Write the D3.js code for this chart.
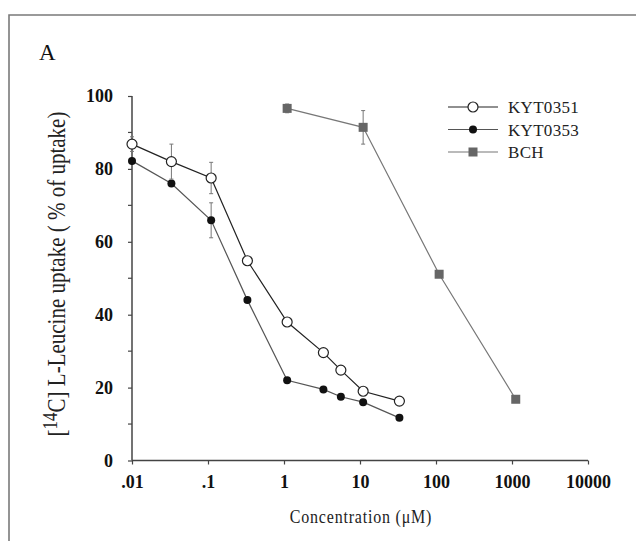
<!DOCTYPE html>
<html>
<head>
<meta charset="utf-8">
<script src="https://cdn.jsdelivr.net/npm/d3@7"></script>
<style>
  body { margin: 0; background: #fff; }
  svg { display: block; }
  text { font-family: "Liberation Serif", "Times New Roman", serif; }
</style>
</head>
<body>
<div id="chart"></div>
<script>
// data
const kytConc = [0.01, 0.033, 0.11, 0.33, 1.1, 3.3, 5.6, 11, 33];
const kyt0351 = [86.8, 82, 77.5, 54.8, 38, 29.6, 24.8, 19, 16.3];
const kyt0351Err = [2, 4.8, 4.3, 0, 0, 0, 0, 0, 0];
const kyt0353 = [82.2, 76, 65.9, 44, 22, 19.5, 17.5, 16, 11.7];
const kyt0353Err = [0, 0, 4.8, 0, 0, 0, 0, 0, 0];
const bchConc = [1.1, 11, 110, 1120];
const bch = [96.6, 91.4, 51.1, 16.8];
const bchErr = [1.2, 4.6, 0, 0];

const xTicks = [0.01, 0.1, 1, 10, 100, 1000, 10000];
const xTickLabels = [".01", ".1", "1", "10", "100", "1000", "10000"];
const yTicks = [0, 20, 40, 60, 80, 100];
const yMinor = [10, 30, 50, 70, 90];

const W = 636, H = 541;
const svg = d3.select("#chart").append("svg").attr("width", W).attr("height", H);

// frame (top + left only visible)
svg.append("path")
  .attr("d", "M9,541 V15 H636")
  .attr("fill", "none").attr("stroke", "#7a7a7a").attr("stroke-width", 1.6);

svg.append("text").attr("x", 39).attr("y", 60)
  .attr("font-size", 23).attr("fill", "#111").text("A");

const x = d3.scaleLog().domain([0.01, 10000]).range([132, 588]);
const y = d3.scaleLinear().domain([0, 100]).range([460.5, 96]);

// axes
const gx = svg.append("g").attr("transform", "translate(0,460.5)")
  .call(d3.axisBottom(x).tickValues(xTicks).tickSize(4).tickPadding(11)
    .tickFormat((d, i) => xTickLabels[i]));
const gy = svg.append("g").attr("transform", "translate(132,0)")
  .call(d3.axisLeft(y).tickValues(yTicks).tickSize(4).tickPadding(15));
gy.selectAll(".minor").data(yMinor).enter().append("line")
  .attr("class", "minor").attr("x1", -4).attr("x2", 0)
  .attr("y1", d => y(d)).attr("y2", d => y(d));

[gx, gy].forEach(g => {
  g.select(".domain").attr("stroke", "#444").attr("stroke-width", 1.5)
    .attr("d", g === gx ? "M132,0H588" : "M0,460.5V96");
  g.selectAll("line").attr("stroke", "#444").attr("stroke-width", 1.2);
  g.selectAll("text").attr("font-size", 18).attr("font-weight", "bold")
    .attr("fill", "#111").style("font-family", "'Liberation Serif', serif");
});

// axis titles
svg.append("text")
  .attr("transform", "translate(361,523) scale(1,1.2)")
  .attr("text-anchor", "middle").attr("font-size", 16)
  .attr("letter-spacing", 0.8).attr("fill", "#222")
  .text("Concentration (μM)");

const yt = svg.append("text")
  .attr("transform", "translate(65,274) rotate(-90) scale(1,1.2)")
  .attr("text-anchor", "middle").attr("font-size", 21).attr("fill", "#222");
yt.append("tspan").text("[");
yt.append("tspan").attr("dy", -7).attr("font-size", 17).text("14");
yt.append("tspan").attr("dy", 7).text("C] L-Leucine uptake ( % of uptake)");

// series
const series = [
  { name: "KYT0351", xs: kytConc, ys: kyt0351, err: kyt0351Err, line: "#222", shape: "open" },
  { name: "KYT0353", xs: kytConc, ys: kyt0353, err: kyt0353Err, line: "#555", shape: "filled" },
  { name: "BCH", xs: bchConc, ys: bch, err: bchErr, line: "#777", shape: "square" }
];

const line = d3.line().x(d => x(d[0])).y(d => y(d[1]));

const drawMarker = function(g, shape, cx, cy) {
  if (shape === "open") {
    g.append("circle").attr("cx", cx).attr("cy", cy).attr("r", 5)
      .attr("fill", "#fff").attr("stroke", "#222").attr("stroke-width", 1.2);
  } else if (shape === "filled") {
    g.append("circle").attr("cx", cx).attr("cy", cy).attr("r", 4)
      .attr("fill", "#111");
  } else {
    g.append("rect").attr("x", cx - 4.5).attr("y", cy - 4.5)
      .attr("width", 9).attr("height", 9).attr("fill", "#666");
  }
}

// draw in reverse so open circles sit on top
series.slice().reverse().forEach(s => {
  const pts = s.xs.map((v, i) => [v, s.ys[i], s.err[i]]);
  const g = svg.append("g");
  g.append("path").attr("d", line(pts)).attr("fill", "none")
    .attr("stroke", s.line).attr("stroke-width", 1.2);
  pts.filter(p => p[2] > 0).forEach(p => {
    const cx = x(p[0]);
    g.append("path")
      .attr("d", `M${cx},${y(p[1] + p[2])}V${y(p[1] - p[2])}` +
        `M${cx - 2},${y(p[1] + p[2])}H${cx + 2}M${cx - 2},${y(p[1] - p[2])}H${cx + 2}`)
      .attr("stroke", "#777").attr("stroke-width", 1).attr("fill", "none");
  });
  pts.forEach(p => drawMarker(g, s.shape, x(p[0]), y(p[1])));
});

// legend
const lg = svg.append("g");
series.forEach((s, i) => {
  const ly = 107 + i * 22.5;
  lg.append("line").attr("x1", 448).attr("x2", 498).attr("y1", ly).attr("y2", ly)
    .attr("stroke", s.line).attr("stroke-width", 1.2);
  drawMarker(lg, s.shape, 473, ly);
  lg.append("text").attr("x", 508).attr("y", ly + 6)
    .attr("font-size", 17).attr("letter-spacing", 0.3).attr("fill", "#222").text(s.name);
});
</script>
</body>
</html>
